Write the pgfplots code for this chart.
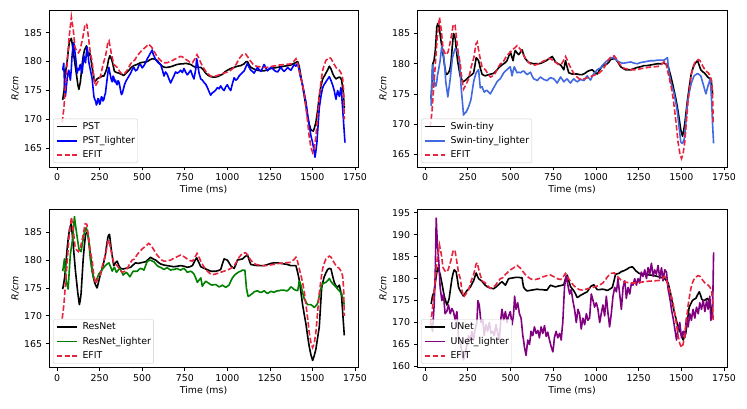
\documentclass[border=0pt]{standalone}
\usepackage{fontspec}
\setmainfont{DejaVu Sans}
\usepackage{pgfplots}
\usepackage{pgfplotstable}
\pgfplotsset{compat=1.18}
\definecolor{efitred}{HTML}{E8233D}
\definecolor{royal}{HTML}{4169E1}
\definecolor{dgreen}{HTML}{008000}
\definecolor{purp}{HTML}{800080}
\newcommand{\fs}{\fontsize{9.4}{11}\selectfont}
\tikzset{
  myln/.style={line width=1.6pt, line join=round},
  myef/.style={line width=1.6pt, efitred, dash pattern=on 5.5pt off 2.4pt},
}

\pgfplotstableread{
x y
30 169.5
40 172
50 176
60 180
70 184
84 187.7
95 185.5
105 182.5
115 181.8
125 181.5
135 182
150 184
165 186.5
175 186.4
185 184
195 181.5
206 180
215 177.5
225 175.8
235 176.3
255 177.5
270 179.5
285 181
298 183.3
305 183.6
318 181.5
333 179.5
353 179
370 178.2
383 177.8
398 178
412 178.5
430 179.5
441 180
455 180.2
471 181
485 181.5
500 182
520 182.5
539 183
555 182.5
569 181.8
585 181
598 180.5
615 180
628 179.8
645 179.8
667 180
690 180.4
706 180.6
725 180.9
736 180.8
750 180.5
765 180.2
780 179.9
795 179.8
810 180.5
822 181.2
834 180.5
844 179.8
858 179
873 178.3
890 177.8
902 177.5
920 177.4
942 177.6
960 177.8
980 178
1000 178.2
1020 178.5
1040 179
1055 179.7
1069 180.5
1089 181.2
1108 181.3
1120 180.8
1138 180
1155 179.4
1170 179.2
1190 179.1
1207 179
1236 179
1265 179.2
1290 179.3
1305 179.4
1344 179.5
1373 179.6
1395 180.2
1403 180.5
1412 179.8
1422 178.5
1432 177.3
1442 176
1452 174.3
1462 172
1472 169.5
1481 167
1491 165.2
1501 164.3
1510 165
1520 167
1530 170.5
1540 174
1550 176.5
1560 178.5
1570 179.5
1579 180.2
1599 180.7
1610 180.5
1618 180
1628 179.5
1638 179
1648 178.7
1658 178.5
1668 178
1677 177.2
1683 175
1687 170
}\efit

\pgfplotsset{
  panel/.style={
    scale only axis, width=309pt, height=157pt,
    xmin=-47.5, xmax=1767.5,
    xtick={0,250,...,1750},
    tick align=outside, tick pos=left,
    major tick length=3.3pt,
    axis line style={line width=0.75pt},
    every tick/.style={line width=0.75pt, black},
    xlabel={Time (ms)}, ylabel={\textit{R/cm}},
    ticklabel style={font=\fs},
    label style={font=\fs},
    xlabel style={yshift=2pt},
    ylabel style={yshift=-2pt},
    /pgf/number format/assume math mode=true,
    /pgf/number format/set thousands separator={},
    legend cell align=left,
    legend style={at={(0,0)}, anchor=south west, xshift=4pt, yshift=4pt,
      draw=black!20, rounded corners=2pt, fill=white, fill opacity=0.8,
      text opacity=1, draw opacity=1, font=\fs,
      inner xsep=2.7pt, inner ysep=3.2pt,
      row sep=5.3pt, column sep=5pt,
      nodes={inner sep=0pt, text height=7pt, text depth=2pt}},
    legend image code/.code={\draw[##1, line width=1.6pt] (0pt,0pt) -- (20pt,0pt);},
  },
}

\begin{document}
\begin{tikzpicture}
\useasboundingbox (0,0) rectangle (747pt,408pt);

% ---------------- Panel 1 ----------------
\begin{axis}[panel, at={(49pt,241pt)}, anchor=south west,
  ymin=161.8, ymax=188.9, ytick={165,170,...,185}]
\addplot[myln, black] table {
33 173.4
41 175
49 178
59 180
66 182
73 183.5
84 184
94 182
101 180.5
108 179
115 177.5
122 176
128 175.2
137 176.5
147 179.5
154 181
161 182
173 182.7
182 181
192 181.5
200 180.2
206 179
213 177.8
220 176.5
235 177
245 177.2
255 177.3
265 177.5
275 177.5
285 178.2
294 179
302 180.3
310 181
317 180.6
324 180
337 178.3
350 178.1
363 178
378 177.8
392 177.6
406 178
422 178.5
436 179
451 179.3
470 179.5
490 179.8
510 179.9
530 180
545 180.3
559 180.5
575 180.4
588 180.2
603 179.6
618 179.2
632 179
647 179
667 179.1
686 179.3
706 179.5
726 179.6
740 179.6
755 179.7
770 179.6
785 179.5
800 179.2
814 179
830 179
844 179
858 178.6
873 178
888 177.6
902 177.4
922 177.3
942 177.4
956 177.6
971 177.8
985 178.2
1000 178.5
1020 178.8
1040 179
1060 179.2
1079 179.3
1098 179.6
1110 180
1118 180
1128 179.4
1138 179
1157 178.7
1177 178.5
1197 178.4
1216 178.4
1236 178.6
1256 178.8
1275 178.9
1295 179
1314 179.1
1334 179.2
1354 179.3
1373 179.4
1393 179.7
1413 180
1422 179.2
1432 177.5
1442 175.8
1452 174
1462 172.3
1471 170.5
1481 169.2
1491 168.2
1505 168
1512 168.6
1520 169.5
1530 171.5
1540 174
1550 175.8
1560 177
1570 177.5
1579 178
1590 178.6
1599 179.2
1608 178.8
1618 178
1628 177.4
1638 177
1648 177.2
1658 177.3
1665 177.2
1671 176.8
1680 175
1687 172
};
\addplot[myln, blue] table {
33 178.5
39 179.7
44 176
49 174
54 175.5
59 177
64 178
69 178.5
74 177.5
78 176.8
83 178.5
88 181
93 182.5
98 183.3
103 182
108 181
113 179.5
118 178
123 178.8
128 178.5
133 179.2
137 179.5
142 178.5
147 178
152 179.5
157 181
162 180.2
167 179.8
172 181.5
177 182.5
182 181.2
186 180
191 179.2
196 178.5
201 177.8
206 177
211 175.5
216 174
221 173.5
226 173.2
231 172.5
235 172.8
240 173.6
245 173.5
250 172.6
255 173
260 173.9
265 173.8
270 173.2
275 173.5
280 174.2
284 174.5
289 175.8
294 177
299 178.2
304 179
309 178.2
314 177.5
319 176.8
324 176.5
329 177.5
333 177.3
338 176.5
343 176.8
348 176.2
353 176
358 176.7
363 176.5
368 175.8
373 175
378 174.3
383 174.5
390 175.3
396 176
404 176.6
412 177
422 177.5
432 178
441 178.6
451 179
461 178.4
471 178.6
480 179.3
490 179.5
500 178.9
510 179.3
520 179.8
530 180.5
540 181
549 181.5
559 182
564 181.3
569 181
578 180.4
588 180
598 179.7
608 179.5
618 178.6
628 177.5
637 178.2
647 177.8
657 177
667 176.3
676 176.9
686 177.5
696 178.2
706 178
716 178.2
726 178.5
736 178.1
745 178.8
755 178.2
765 177.7
775 178.1
785 178.5
795 177.6
804 177
814 178.6
820 180.5
826 179.5
834 178
844 177
853 176.8
863 176.4
873 176.1
883 175.5
893 174.8
902 174.2
912 174.6
922 174.8
932 175.1
942 175.5
952 175.3
961 175.8
971 175.3
981 175
990 175.6
1000 176
1010 175.4
1020 175
1030 176.2
1040 177.2
1050 176.8
1059 177
1069 177.5
1079 177.8
1089 178.1
1099 178.4
1108 179
1118 179.7
1128 179
1138 178.5
1148 178.3
1157 178
1167 178.5
1177 179
1187 178.6
1197 178.3
1207 178.9
1216 179.5
1226 178.9
1236 178.4
1246 178.7
1256 179
1265 178.8
1275 178.5
1285 178.3
1295 178.2
1305 178.6
1314 179
1324 178.6
1334 178.3
1344 178.6
1354 179
1364 178.7
1373 178.5
1383 179
1393 179.5
1403 179.2
1413 179.7
1420 178.8
1428 177.5
1435 176.8
1442 176
1452 174.5
1462 173
1471 171
1481 169
1491 167.2
1501 166
1508 164.8
1515 163.5
1520 164.5
1526 166
1533 169
1540 172
1550 174
1560 175.5
1570 176.1
1579 176.5
1590 177
1599 177.4
1608 176.8
1618 176
1628 175
1633 174.2
1638 173.5
1643 174.3
1648 175
1653 174.4
1658 174
1663 174.8
1667 175.5
1672 174
1677 172
1684 169
1691 166
};
\addplot[myef] table {\efit};
\legend{PST, PST\_lighter, EFIT}
\end{axis}

% ---------------- Panel 2 ----------------
\begin{axis}[panel, at={(417pt,241pt)}, anchor=south west, width=310pt,
  ymin=162.9, ymax=188.9, ytick={165,170,...,185}]
\addplot[myln, black] table {
35 174.1
40 177
45 180
52 180.5
59 182
64 184
68 186
73 186.6
78 186.7
85 185.5
92 184
100 182.5
108 181
115 179.5
123 178.2
130 178.3
137 178.5
144 179
151 180
158 182.5
166 185
171 184.8
176 184.2
183 182.3
190 180.5
198 179.2
205 178
213 177.5
221 177
233 177.2
245 177.5
255 177.8
264 178
274 178.2
284 178.5
291 179.6
299 181
306 180.8
313 180.5
323 179.3
333 178.3
342 178.1
352 178
362 178.1
372 178.2
386 178.3
401 178.4
415 178.8
430 179.3
445 179.7
460 180
470 180.2
479 180.5
489 181.2
499 182
507 181.2
515 180.5
521 181.5
528 182.2
538 181.8
548 181.5
558 181.9
568 182.3
577 181.5
587 180.8
597 180.5
607 180.2
621 180.1
636 180
650 180
665 180
680 180.1
695 180.3
709 180.5
724 180.8
734 181
744 181.2
753 180.8
763 180.3
778 180
793 179.8
803 179.4
812 179
817 179.8
822 180.5
831 179.5
841 178.5
851 178.4
861 178.3
875 178.3
890 178.3
905 178.2
920 178.2
935 178.4
949 178.7
964 178.9
978 179
993 178.6
1008 178.3
1022 179
1037 179.6
1052 179.8
1067 180
1077 180.3
1086 180.7
1100 180.8
1115 180.8
1130 180.2
1145 179.5
1160 179.2
1174 179
1189 179
1204 179
1223 179.2
1243 179.4
1262 179.5
1282 179.7
1301 179.7
1321 179.8
1340 179.9
1360 180
1380 180
1399 180.1
1411 179.9
1423 179.6
1430 178.8
1438 178
1448 176.8
1458 175.5
1468 174.2
1477 172.8
1487 171
1497 169
1507 168
1513 168.8
1520 170
1528 172
1536 174
1546 176
1556 178
1565 179
1575 179.8
1585 180.2
1595 180.5
1604 179.8
1614 179
1624 178.7
1634 178.5
1644 178.2
1654 177.8
1664 177.6
1673 177.5
1678 176.5
1683 175
};
\addplot[myln, royal] table {
35 173
39 176.5
43 179.8
48 178.5
53 177
58 176.5
63 176.3
68 177
72 178
80 179.2
88 180.5
93 181.8
98 183
103 182.3
108 181.5
115 179.5
121 177
127 175.8
133 174.5
140 176
147 177.5
153 179.2
160 181
168 181.8
176 182.5
183 182.3
190 182
196 181.3
201 180.5
206 178.3
211 176
218 173.8
225 171.5
232 171.8
240 172
247 172.4
254 172.8
261 173.4
268 174
276 175.5
284 177
291 177.8
299 178.5
306 178.8
313 179
318 177.5
323 176
328 176.1
333 176.2
340 175.7
346 175.3
354 175.5
362 175.6
372 175.3
382 175
391 175.5
401 176
411 176.5
421 177
430 177.3
440 177.5
450 178
460 178.5
470 178.8
479 179
489 179.3
499 179.5
504 178.7
509 178
515 178.8
522 179.5
530 179
538 178.5
548 178.6
558 178.5
568 178.7
577 178.8
587 178.5
597 178.2
607 178.4
617 178.6
626 178
636 177.5
646 177.4
656 177.2
665 177.5
675 177.8
685 177.6
695 177.4
705 177.3
714 177.2
724 177.5
734 177.7
744 177.6
753 177.5
763 177.2
773 176.8
783 177.3
793 177.8
803 177.4
812 177
822 177.3
832 177.5
842 177.1
851 176.8
861 177.2
871 177.5
881 177.2
890 177
900 177.2
910 177.4
920 177.3
930 177.2
939 177.6
949 178
959 177.6
969 177.3
978 177.9
988 178.4
998 178.7
1008 179
1018 179.2
1027 179.3
1037 179.7
1047 180
1057 180.3
1067 180.5
1076 180.7
1086 180.9
1096 181
1106 181
1115 180.8
1125 180.5
1135 180.3
1145 180.2
1155 180.1
1164 180.1
1184 180.2
1204 180.3
1223 180.1
1243 180
1262 180.2
1282 180.3
1301 180.4
1321 180.5
1340 180.5
1360 180.6
1380 180.6
1399 180.6
1409 180.8
1419 181
1424 179.5
1428 178.5
1433 177.8
1438 177
1448 176
1458 175
1468 173.5
1477 172
1487 169.5
1497 167
1507 166.8
1517 167.5
1527 170.5
1536 173.5
1546 175.2
1556 176.5
1565 177.3
1575 178
1585 178.2
1595 178.4
1604 178.2
1614 178
1624 177
1634 176
1639 175.5
1644 175
1651 175.8
1658 176.5
1664 177
1669 177.5
1673 176
1677 174
1683 170
1689 166.8
};
\addplot[myef] table {\efit};
\legend{Swin-tiny, Swin-tiny\_lighter, EFIT}
\end{axis}

% ---------------- Panel 3 ----------------
\begin{axis}[panel, at={(49pt,40.3pt)}, anchor=south west, height=158.4pt,
  ymin=160.7, ymax=189.1, ytick={165,170,...,185}]
\addplot[myln, black] table {
33 174.8
39 175.8
45 177
52 179.5
59 182
66 184
73 185.5
82 186.5
88 185
94 183
101 180.5
108 178
115 176
122 174
131 172
136 172.8
141 174
147 177
153 180
160 182.5
167 184.5
173 184.9
180 184.8
186 183.5
192 182
199 180
206 178
213 177
220 176
228 175.4
235 175
243 176
251 177
258 177.8
265 178.5
275 179.7
284 181
291 182.6
298 184
303 184.5
308 184.6
313 183.3
318 182
325 180.5
333 179
343 179.5
353 179.8
363 179
373 178.5
388 178.4
402 178.5
417 178.6
432 178.7
446 179.1
461 179.5
476 179.4
490 179.5
505 179.6
520 179.7
535 180.1
549 180.5
564 180.2
579 180
594 179.6
608 179.3
628 179.1
647 179
667 178.9
686 178.8
706 178.9
726 179
745 178.9
765 178.7
780 178.8
795 179
808 179.8
820 180.4
832 179.6
844 178.8
858 178.6
873 178.4
888 178.2
902 178
917 178
932 178
946 178.1
961 178.3
971 179.3
981 180.2
990 180.1
1000 180
1010 179.5
1020 179
1030 178.7
1040 178.5
1050 179.2
1059 180
1074 180.1
1089 180.2
1103 180.6
1113 180.8
1118 181
1128 180
1138 179.2
1157 179.1
1177 179
1197 179
1216 179
1236 179.2
1256 179.4
1275 179.5
1295 179.5
1314 179.4
1334 179.3
1354 179.2
1373 179
1388 179
1403 179
1413 177.8
1422 176.5
1432 174.3
1442 172
1452 170.2
1462 168.5
1471 166.5
1481 164.5
1491 163
1501 162
1510 162.8
1520 164
1530 166
1540 168
1547 171.5
1554 175
1561 176
1569 177
1579 177.7
1589 178.3
1599 178.5
1609 178.4
1618 177.2
1628 176
1636 175.5
1644 175
1651 175.3
1658 175.5
1665 174.5
1671 173.5
1679 170
1687 166.5
};
\addplot[myln, dgreen] table {
33 178
38 179
43 180.2
48 178.5
53 176.5
59 175.5
65 174.8
71 177.8
78 181
85 182.5
92 184
97 186
102 187.8
108 186.3
114 185
121 183.5
128 182
135 181.7
141 181.5
149 183
157 184.5
164 185.2
171 185.8
176 185.3
182 184.5
189 182.3
196 180
204 178.5
212 177
219 176.5
226 176
236 176.8
245 177.5
255 177.9
265 178.3
275 178.7
284 179
294 179.3
304 179.5
314 178.8
324 178
330 178.4
337 178.7
343 178.2
349 177.8
359 178.2
369 178.5
379 177.9
388 177.3
398 177.6
408 177.8
418 177.4
428 177
437 177.5
447 178
459 178
471 178
480 178.3
490 178.5
500 178.4
510 178.2
520 179
530 179.8
540 179.9
549 180
559 179.8
569 179.7
579 179.3
588 179
598 178.8
608 178.7
618 178.5
628 178.3
637 178.5
647 178.6
657 178.4
667 178.2
676 178.3
686 178.3
696 178.4
706 178.5
716 178.3
726 178.2
736 178.4
745 178.5
755 178.2
765 177.8
775 177.9
785 178
795 177.8
804 177.5
814 176.8
824 176
834 176.4
844 176.8
849 176
853 175.3
863 175.8
873 176.2
883 176
893 175.8
902 175.6
912 175.5
922 175.6
932 175.6
942 175.4
951 175.2
961 175.3
971 175.5
981 175.3
991 175.1
1000 175.3
1010 175.5
1020 176.2
1030 176.8
1040 177.2
1050 177.5
1059 177.7
1069 177.9
1079 178
1089 178.2
1096 178.2
1103 178.2
1108 176.5
1112 175
1117 174.2
1122 173.5
1130 173.6
1138 173.8
1148 174
1157 174.3
1167 174.4
1177 174.5
1187 174.3
1197 174.2
1206 174.3
1216 174.5
1226 174.2
1236 174
1246 174.2
1256 174.4
1265 174.3
1275 174.2
1285 174.4
1295 174.5
1305 174.5
1314 174.6
1324 174.6
1334 174.6
1344 174.5
1354 174.5
1364 174.8
1373 175.2
1383 175
1393 174.7
1403 174.6
1413 174.5
1418 175.3
1422 176.2
1427 176
1432 175.5
1442 174.2
1452 173
1462 172.5
1471 172
1481 172
1491 172
1500 171.8
1510 171.5
1520 171.8
1530 172.2
1538 173.3
1546 174.5
1553 175.2
1560 175.8
1569 175.9
1579 176
1589 176.3
1599 176.7
1608 176.2
1618 175.8
1628 175.5
1638 175.2
1648 174.8
1658 174.5
1665 174.2
1671 174
1679 173
1687 172
};
\addplot[myef] table {\efit};
\legend{ResNet, ResNet\_lighter, EFIT}
\end{axis}

% ---------------- Panel 4 ----------------
\begin{axis}[panel, at={(417pt,40.3pt)}, anchor=south west, width=310pt, height=158.4pt,
  ymin=159.7, ymax=195.8, ytick={160,165,...,195}]
\addplot[myln, black] table {
35 174.2
39 175
43 176
48 176.5
53 177
58 178.5
63 180
68 181.3
74 182.5
81 181.8
88 181
93 180
98 179
105 177.5
112 176
120 175
127 174
134 174.6
141 175.5
149 177.8
157 180
164 181.2
170 182
176 181.8
182 181.5
189 179.8
196 178
202 177.5
209 177
217 176.5
225 176
235 176.7
245 177.3
255 177.7
264 178
274 178.8
284 179.5
291 180.4
299 181.3
306 180.6
313 180
323 179.7
333 179.4
343 178.9
352 178.5
362 178.2
372 178
386 177.8
401 177.7
415 178.1
430 178.6
440 179
450 179.3
460 178.9
470 178.5
479 179.2
489 180
504 180.1
518 180.2
533 180.3
548 180.3
558 180.2
568 180.2
572 179
577 178
587 177.5
597 177.2
611 177.3
626 177.4
641 177.5
656 177.6
670 177.5
685 177.5
700 177.4
714 177.4
724 178
734 178.5
748 178.3
763 178.1
778 178.3
793 178.4
803 178.5
812 178.6
822 180
832 180.8
841 179.5
851 178.2
861 177.7
871 177.2
881 176.5
890 175.7
900 175.9
910 176.2
920 176.4
934 176.7
949 177
959 177.6
969 178.2
978 178.4
988 178.6
998 178
1008 177.5
1022 177.5
1037 177.6
1052 177.5
1067 177.3
1081 177.6
1096 178
1106 179.5
1115 181
1125 181.1
1135 181.2
1145 181.5
1155 181.7
1164 181.8
1174 182
1184 182.2
1194 182.5
1204 182.6
1213 182.7
1223 182.3
1233 181.8
1243 181.5
1252 181.2
1267 181.1
1282 181
1301 180.9
1321 180.8
1340 180.7
1360 180.5
1380 180.3
1399 180.2
1411 179.6
1423 179
1430 177.8
1438 176.5
1448 174.5
1458 172.5
1468 171
1477 169.5
1487 168.5
1497 167.5
1504 166.8
1511 166
1518 166.8
1526 167.5
1536 170.5
1546 173.5
1556 174.3
1565 175
1575 175.3
1585 175.5
1595 176.3
1605 177
1613 176.2
1620 175.3
1627 175.1
1634 175
1644 175.3
1654 175.5
1661 175
1669 174.5
1676 173
1683 171
};
\addplot[myln, purp] table {
35 170
39 169
43 168
48 171
53 174
56 177.5
59 181
62 187
65 193.8
68 191
72 188
76 186
80 184
84 181
88 178
93 176.5
98 175
103 175.8
108 176.5
112 174.3
117 172
122 172.3
127 172.5
132 173.3
137 174
142 173
147 172
152 172.6
157 173.2
161 172.8
166 172.5
171 171.5
176 170.5
181 171.5
186 172.5
191 169.5
196 166.5
200 166
205 165.5
210 164.5
215 163.5
220 162.5
225 161.5
230 162.3
235 163
240 164
245 165
250 166
254 167
259 166.5
264 166
269 167
274 168
279 167
284 166
288 167.3
293 168.5
298 169.3
303 170
306 172.5
309 175
313 174.5
317 174
322 172
327 170
332 170.3
337 170.5
342 168.8
346 167
351 168.3
356 169.5
361 168.8
366 168
371 169
376 170
381 168.8
386 167.5
391 167.8
395 168
400 167.5
405 167
410 168.3
415 169.5
420 168.5
425 167.5
430 166.8
434 166
439 168.5
444 171
447 172
450 173
455 171.8
460 170.5
465 171.5
470 172.5
475 171.3
479 170
484 170.8
489 171.5
494 172
499 172.5
504 171
509 169.5
514 170.8
518 172
521 174
524 176
528 174.5
532 173
537 173.8
542 174.5
547 173.3
552 172
557 171.5
562 171
567 169
572 167
577 165.8
581 164.5
586 163.5
591 162.5
596 164.3
601 166
606 165.5
611 165
616 166.5
620 168
625 167.5
630 167
635 168
640 169
645 168.3
650 167.5
655 167.8
660 168.2
665 167.3
669 166.5
674 167.8
679 169
684 168.3
689 167.5
694 168.4
699 169.3
704 168
709 166.8
714 167.3
718 167.8
723 166.9
728 166
733 165.3
738 164.5
743 163.9
748 163.3
753 164.9
757 166.5
762 167.3
767 168
772 167.3
777 166.5
782 167
787 167.5
792 166.8
797 166
801 168
806 170
811 174
816 178
821 179.5
826 180.7
831 179.6
836 178.5
841 177.5
846 176.5
851 177
855 177.5
860 176.3
865 175
870 174
875 173
880 171.5
885 170
890 171.5
895 173
899 172.5
904 172
909 170.3
914 168.5
919 169.8
924 171
929 170.3
934 169.5
939 170.8
944 172
949 171.3
953 170.5
958 170.8
963 171
968 173.8
973 176.5
978 175.8
983 175
988 174.3
992 173.5
997 174
1002 174.5
1007 173.8
1012 173
1017 171.5
1022 170
1027 171
1031 172
1036 173
1041 174
1046 172.8
1051 171.5
1056 173.8
1061 176
1066 174
1071 172
1076 170.5
1080 169
1085 170.5
1090 172
1095 174
1100 176
1105 177
1110 178
1115 177.5
1120 177
1125 178.5
1129 180
1134 178.3
1139 176.5
1144 174.8
1149 173
1154 175.5
1159 178
1164 178.8
1169 179.5
1174 177.5
1178 175.5
1183 176.8
1188 178
1193 177.3
1198 176.5
1203 177.8
1208 179
1213 178.8
1217 178.5
1222 179.3
1227 180
1232 179.3
1237 178.5
1242 179.3
1247 180
1252 179.5
1256 179
1261 180.3
1266 181.5
1271 181
1276 180.5
1281 181.3
1286 182
1291 181
1296 180
1301 181.3
1305 182.5
1310 181.8
1315 181
1320 182.3
1325 183.5
1330 182
1335 180.5
1340 181.3
1344 182
1349 181.5
1354 181
1359 182
1364 183
1369 181.5
1374 180
1379 181.3
1384 182.5
1389 181
1393 179.5
1398 180.8
1403 182
1408 181.8
1413 181.5
1418 179.5
1423 177.5
1428 176.5
1433 175.5
1438 174.3
1442 173
1447 172
1452 171
1457 169.8
1462 168.5
1467 167.3
1472 166
1477 167.3
1481 168.5
1486 169.3
1491 170
1496 168.3
1501 166.5
1506 167.3
1511 168
1516 167.3
1520 166.5
1525 168.8
1530 171
1535 170
1540 169
1545 170.5
1550 172
1555 171.3
1559 170.5
1564 171.8
1569 173
1574 172
1579 171
1584 172.3
1589 173.5
1594 172.8
1599 172
1604 173.3
1608 174.5
1613 173.8
1618 173
1623 174
1628 175
1633 173.8
1638 172.5
1643 173.8
1648 175
1653 174
1657 173
1662 174.5
1667 176
1670 173
1673 170.5
1678 171.3
1683 172
1686 179
1689 186
};
\addplot[myef] table {\efit};
\legend{UNet, UNet\_lighter, EFIT}
\end{axis}
\end{tikzpicture}
\end{document}
